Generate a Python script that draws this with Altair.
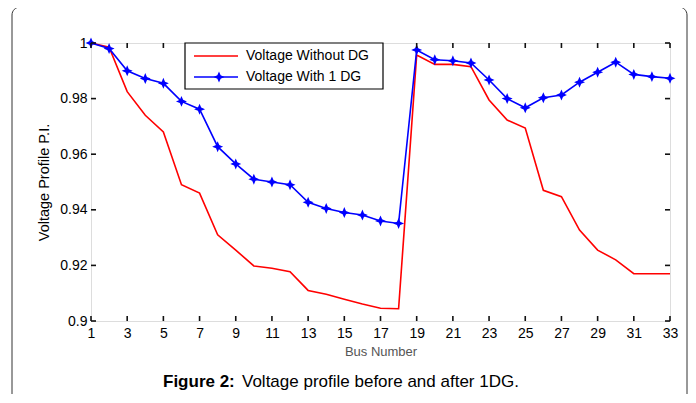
import altair as alt
import pandas as pd

# ---- data ----
bus = list(range(1, 34))
v_without_dg = [1.000, 0.9985, 0.9825, 0.9740, 0.9680, 0.9490, 0.9460, 0.9310, 0.9255, 0.9198,
                0.9190, 0.9177, 0.9110, 0.9096, 0.9078, 0.9061, 0.9046, 0.9044, 0.9957, 0.9923,
                0.9923, 0.9915, 0.9795, 0.9723, 0.9694, 0.9470, 0.9447, 0.9327, 0.9255, 0.9220,
                0.9170, 0.9170, 0.9170]
v_with_1dg = [1.000, 0.9980, 0.9900, 0.9872, 0.9855, 0.9790, 0.9762, 0.9627, 0.9565, 0.9510,
              0.9500, 0.9490, 0.9427, 0.9405, 0.9390, 0.9381, 0.9360, 0.9351, 0.9975, 0.9940,
              0.9936, 0.9928, 0.9867, 0.9800, 0.9767, 0.9803, 0.9813, 0.9859, 0.9895, 0.9931,
              0.9887, 0.9879, 0.9873]
x_ticks = list(range(1, 34, 2))
y_ticks = [0.90, 0.92, 0.94, 0.96, 0.98, 1.00]
series_names = ["Voltage Without DG", "Voltage With 1 DG"]
caption_bold = "Figure 2:"
caption_rest = "Voltage profile before and after 1DG."

W, H = 579, 278
FONT = "Liberation Sans, Arial, Helvetica, sans-serif"
STAR = "M0,-1L0.3,-0.3L1,0L0.3,0.3L0,1L-0.3,0.3L-1,0L-0.3,-0.3Z"

df = pd.DataFrame({"bus": bus, "without": v_without_dg, "with": v_with_1dg})
xt = pd.DataFrame({"t": x_ticks})
yt = pd.DataFrame({"t": y_ticks})

xscale = alt.Scale(domain=[1, 33], nice=False, zero=False)
yscale = alt.Scale(domain=[0.9, 1.0], nice=False, zero=False)

xaxis = alt.Axis(values=x_ticks, title="Bus Number", ticks=False, domain=False, grid=False,
                 labelFontSize=14, labelPadding=5, labelFlush=False, labelOverlap=False,
                 labelColor="#000", titleFontSize=13, titleFontWeight="normal",
                 titleColor="#555", titlePadding=5, labelFont=FONT, titleFont=FONT)
yaxis = alt.Axis(values=y_ticks, title="Voltage Profile P.I.", ticks=False, domain=False, grid=False,
                 labelFontSize=14, labelPadding=4, labelOverlap=False, labelColor="#000",
                 labelExpr="format(datum.value, '.2~f')",
                 titleFontSize=14.5, titleFontWeight="normal", titleColor="#000", titlePadding=8,
                 labelFont=FONT, titleFont=FONT)

base = alt.Chart(df)

red = base.mark_line(color="#ff0000", strokeWidth=1.6).encode(
    x=alt.X("bus:Q", scale=xscale, axis=xaxis),
    y=alt.Y("without:Q", scale=yscale, axis=yaxis),
)
blue = base.mark_line(color="#0000ff", strokeWidth=1.6).encode(
    x=alt.X("bus:Q", scale=xscale, axis=xaxis),
    y=alt.Y("with:Q", scale=yscale, axis=yaxis),
)
blue_pts = base.mark_point(filled=True, shape=STAR, size=120, color="#0000ff", opacity=1).encode(
    x=alt.X("bus:Q", scale=xscale, axis=xaxis),
    y=alt.Y("with:Q", scale=yscale, axis=yaxis),
)

# inward ticks on all four sides
tick_style = dict(color="#111", strokeWidth=1.6)
xt_bot = alt.Chart(xt).mark_rule(**tick_style).encode(
    x=alt.X("t:Q", scale=xscale, axis=xaxis), y=alt.value(H), y2=alt.value(H - 5))
xt_top = alt.Chart(xt).mark_rule(**tick_style).encode(
    x=alt.X("t:Q", scale=xscale, axis=xaxis), y=alt.value(0), y2=alt.value(5))
yt_left = alt.Chart(yt).mark_rule(**tick_style).encode(
    y=alt.Y("t:Q", scale=yscale, axis=yaxis), x=alt.value(0), x2=alt.value(5))
yt_right = alt.Chart(yt).mark_rule(**tick_style).encode(
    y=alt.Y("t:Q", scale=yscale, axis=yaxis), x=alt.value(W), x2=alt.value(W - 5))

# legend box drawn by hand
leg = pd.DataFrame({"name": series_names})
leg_box = alt.Chart(leg.head(1)).mark_rect(fill="white", stroke="#000", strokeWidth=1.2).encode(
    x=alt.value(94), x2=alt.value(292), y=alt.value(0), y2=alt.value(46))
leg_red = alt.Chart(leg.head(1)).mark_rule(color="#ff0000", strokeWidth=1.6).encode(
    x=alt.value(103), x2=alt.value(147), y=alt.value(13))
leg_blue = alt.Chart(leg.head(1)).mark_rule(color="#0000ff", strokeWidth=1.6).encode(
    x=alt.value(103), x2=alt.value(147), y=alt.value(34))
leg_star = alt.Chart(leg.head(1)).mark_point(filled=True, shape=STAR, size=120, color="#0000ff", opacity=1).encode(
    x=alt.value(128), y=alt.value(34))
leg_t1 = alt.Chart(leg.iloc[[0]]).mark_text(align="left", baseline="middle", fontSize=14, font=FONT, color="#000").encode(
    x=alt.value(155), y=alt.value(13), text="name:N")
leg_t2 = alt.Chart(leg.iloc[[1]]).mark_text(align="left", baseline="middle", fontSize=14, font=FONT, color="#000").encode(
    x=alt.value(155), y=alt.value(34), text="name:N")

# caption
cap = pd.DataFrame({"a": [caption_bold], "b": [caption_rest]})
cap1 = alt.Chart(cap).mark_text(align="left", baseline="middle", fontSize=17, fontWeight="bold", font=FONT, color="#000").encode(
    x=alt.value(72), y=alt.value(339), text="a:N")
cap2 = alt.Chart(cap).mark_text(align="left", baseline="middle", fontSize=17, font=FONT, color="#000").encode(
    x=alt.value(151), y=alt.value(339), text="b:N")

# rounded figure frame
frame = alt.Chart(cap).mark_rect(fill=None, stroke="#333", strokeWidth=1, cornerRadius=8).encode(
    x=alt.value(-79), x2=alt.value(596), y=alt.value(-36), y2=alt.value(420))

chart = alt.layer(
    frame, red, blue, blue_pts, xt_bot, xt_top, yt_left, yt_right,
    leg_box, leg_red, leg_blue, leg_star, leg_t1, leg_t2, cap1, cap2
).properties(
    width=W, height=H,
    autosize=alt.AutoSizeParams(type="none"),
    padding={"left": 83, "top": 35, "right": 18, "bottom": 73},
).configure_view(
    stroke="#000", strokeWidth=1.6
).configure_axis(
    labelOverlap=False, labelFlush=False, labelBound=False
).configure(background="white")

chart.save("out.html", embed_options={"renderer": "svg", "actions": False})
